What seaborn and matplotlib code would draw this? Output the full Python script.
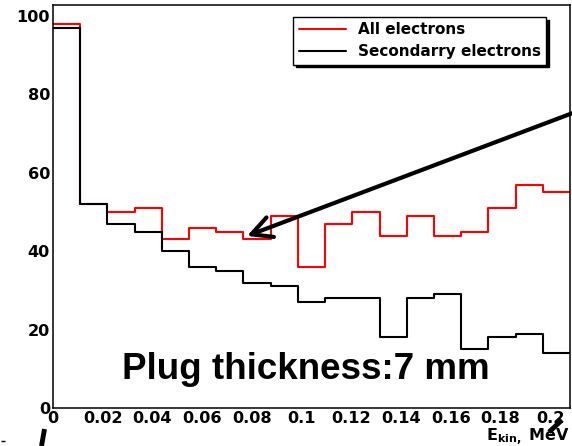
import numpy as np
import pandas as pd
import matplotlib
matplotlib.use("Agg")
import matplotlib.pyplot as plt
from matplotlib.lines import Line2D
from matplotlib.patches import ArrowStyle
import seaborn as sns

# Kinetic-energy spectrum of electrons behind the plug (counts per bin)
e_min, e_max, n_bins = 0.0, 0.208, 19
all_electrons = [98, 52, 50, 51, 43, 46, 45, 43, 49, 36, 47, 50, 44, 49, 44, 45, 51, 57, 55]
secondary_electrons = [97, 52, 47, 45, 40, 36, 35, 32, 31, 27, 28, 28, 18, 28, 29, 15, 18, 19, 14]
series_names = ["All electrons", "Secondarry electrons"]
series_colors = ["#ff0000", "#000000"]

x_ticks = [0, 0.02, 0.04, 0.06, 0.08, 0.1, 0.12, 0.14, 0.16, 0.18, 0.2]
x_tick_labels = ["0", "0.02", "0.04", "0.06", "0.08", "0.1", "0.12", "0.14", "0.16", "0.18", "0.2"]
y_ticks = [0, 20, 40, 60, 80, 100]
y_tick_labels = ["0", "20", "40", "60", "80", "100"]

annotation_text = "Plug thickness:7 mm"
arrow_tip = (0.0781, 43.9)
arrow_tail = (0.2089, 75.2)

sns.set_style("white")
plt.rcParams["font.family"] = ["DejaVu Sans"]
plt.rcParams["font.weight"] = "bold"
plt.rcParams["mathtext.fontset"] = "dejavusans"
for key in ["text.color", "axes.labelcolor", "xtick.color", "ytick.color", "axes.edgecolor"]:
    plt.rcParams[key] = "black"

W, H = 572, 446
fig = plt.figure(figsize=(W / 100, H / 100), dpi=100)
ax = fig.add_axes([53 / W, 1 - 408 / H, 517 / W, 403 / H])

edges = list(np.linspace(e_min, e_max, n_bins + 1))
centers = [0.5 * (a + b) for a, b in zip(edges[:-1], edges[1:])]

for counts, name, color in zip([all_electrons, secondary_electrons], series_names, series_colors):
    df = pd.DataFrame({"energy": centers, "count": counts})
    sns.histplot(data=df, x="energy", weights="count", bins=edges, element="step", fill=False,
                 color=color, linewidth=1.5, label=name, ax=ax)

ax.set_xlim(e_min, e_max)
ax.set_ylim(0, 102.8)
ax.set_xlabel("")
ax.set_ylabel("")

ax.set_xticks(x_ticks)
ax.set_xticklabels(x_tick_labels)
ax.set_xticks(np.arange(0, 0.2081, 0.005), minor=True)
ax.set_yticks(y_ticks)
ax.set_yticklabels(y_tick_labels)
ax.set_yticks(np.arange(0, 101, 5), minor=True)

for lbl in ax.get_xticklabels() + ax.get_yticklabels():
    lbl.set_fontsize(11.6)
    lbl.set_fontweight("bold")
    lbl.set_color("black")

ax.tick_params(axis="both", which="both", direction="in", color="black", width=1.0, pad=2.2)
ax.tick_params(axis="y", which="major", length=11.5)
ax.tick_params(axis="y", which="minor", length=5)
ax.tick_params(axis="x", which="major", length=8)
ax.tick_params(axis="x", which="minor", length=4.3)
ax.tick_params(top=False, right=False, which="both")

for sp in ax.spines.values():
    sp.set_color("black")
    sp.set_linewidth(1.1)

leg = ax.legend(loc="upper left", bbox_to_anchor=(0.465, 0.970), borderaxespad=0,
                frameon=True, fancybox=False, edgecolor="black",
                shadow={"color": "black", "alpha": 1},
                prop={"size": 11.0, "weight": "bold"},
                handlelength=3.1, handletextpad=0.75, borderpad=0.35, labelspacing=0.45)
leg.get_frame().set_linewidth(1.0)
leg.get_frame().set_alpha(1)
for t in leg.get_texts():
    t.set_color("black")

ax.text(0.1018, 7.4, annotation_text, ha="center", va="baseline", color="black",
        fontsize=26.5, fontweight="bold", family="Liberation Sans")

ax.annotate("", xy=arrow_tip, xytext=arrow_tail, annotation_clip=False,
            arrowprops=dict(arrowstyle=ArrowStyle("->", head_length=1.45, head_width=0.75),
                            color="black", lw=3.0, shrinkA=0, shrinkB=0,
                            mutation_scale=10))

fig.text(570 / W, 1 - 441 / H, r"$\mathbf{E}_{\mathbf{kin},}$ MeV", ha="right", va="baseline",
         fontsize=11.5, fontweight="bold", color="black")


def px(x, y):
    return x / W, 1 - y / H


# stray strokes along the lower edge
for (x0, y0), (x1, y1), lw in [((549, 432), (562, 420), 3.5),
                                ((41.5, 446), (44.5, 429), 3.5),
                                ((1, 441), (5, 441), 1.0)]:
    a, b = px(x0, y0)
    c, d = px(x1, y1)
    fig.add_artist(Line2D([a, c], [b, d], transform=fig.transFigure, color="black",
                          lw=lw, solid_capstyle="butt"))

fig.savefig("out.png", dpi=100)
